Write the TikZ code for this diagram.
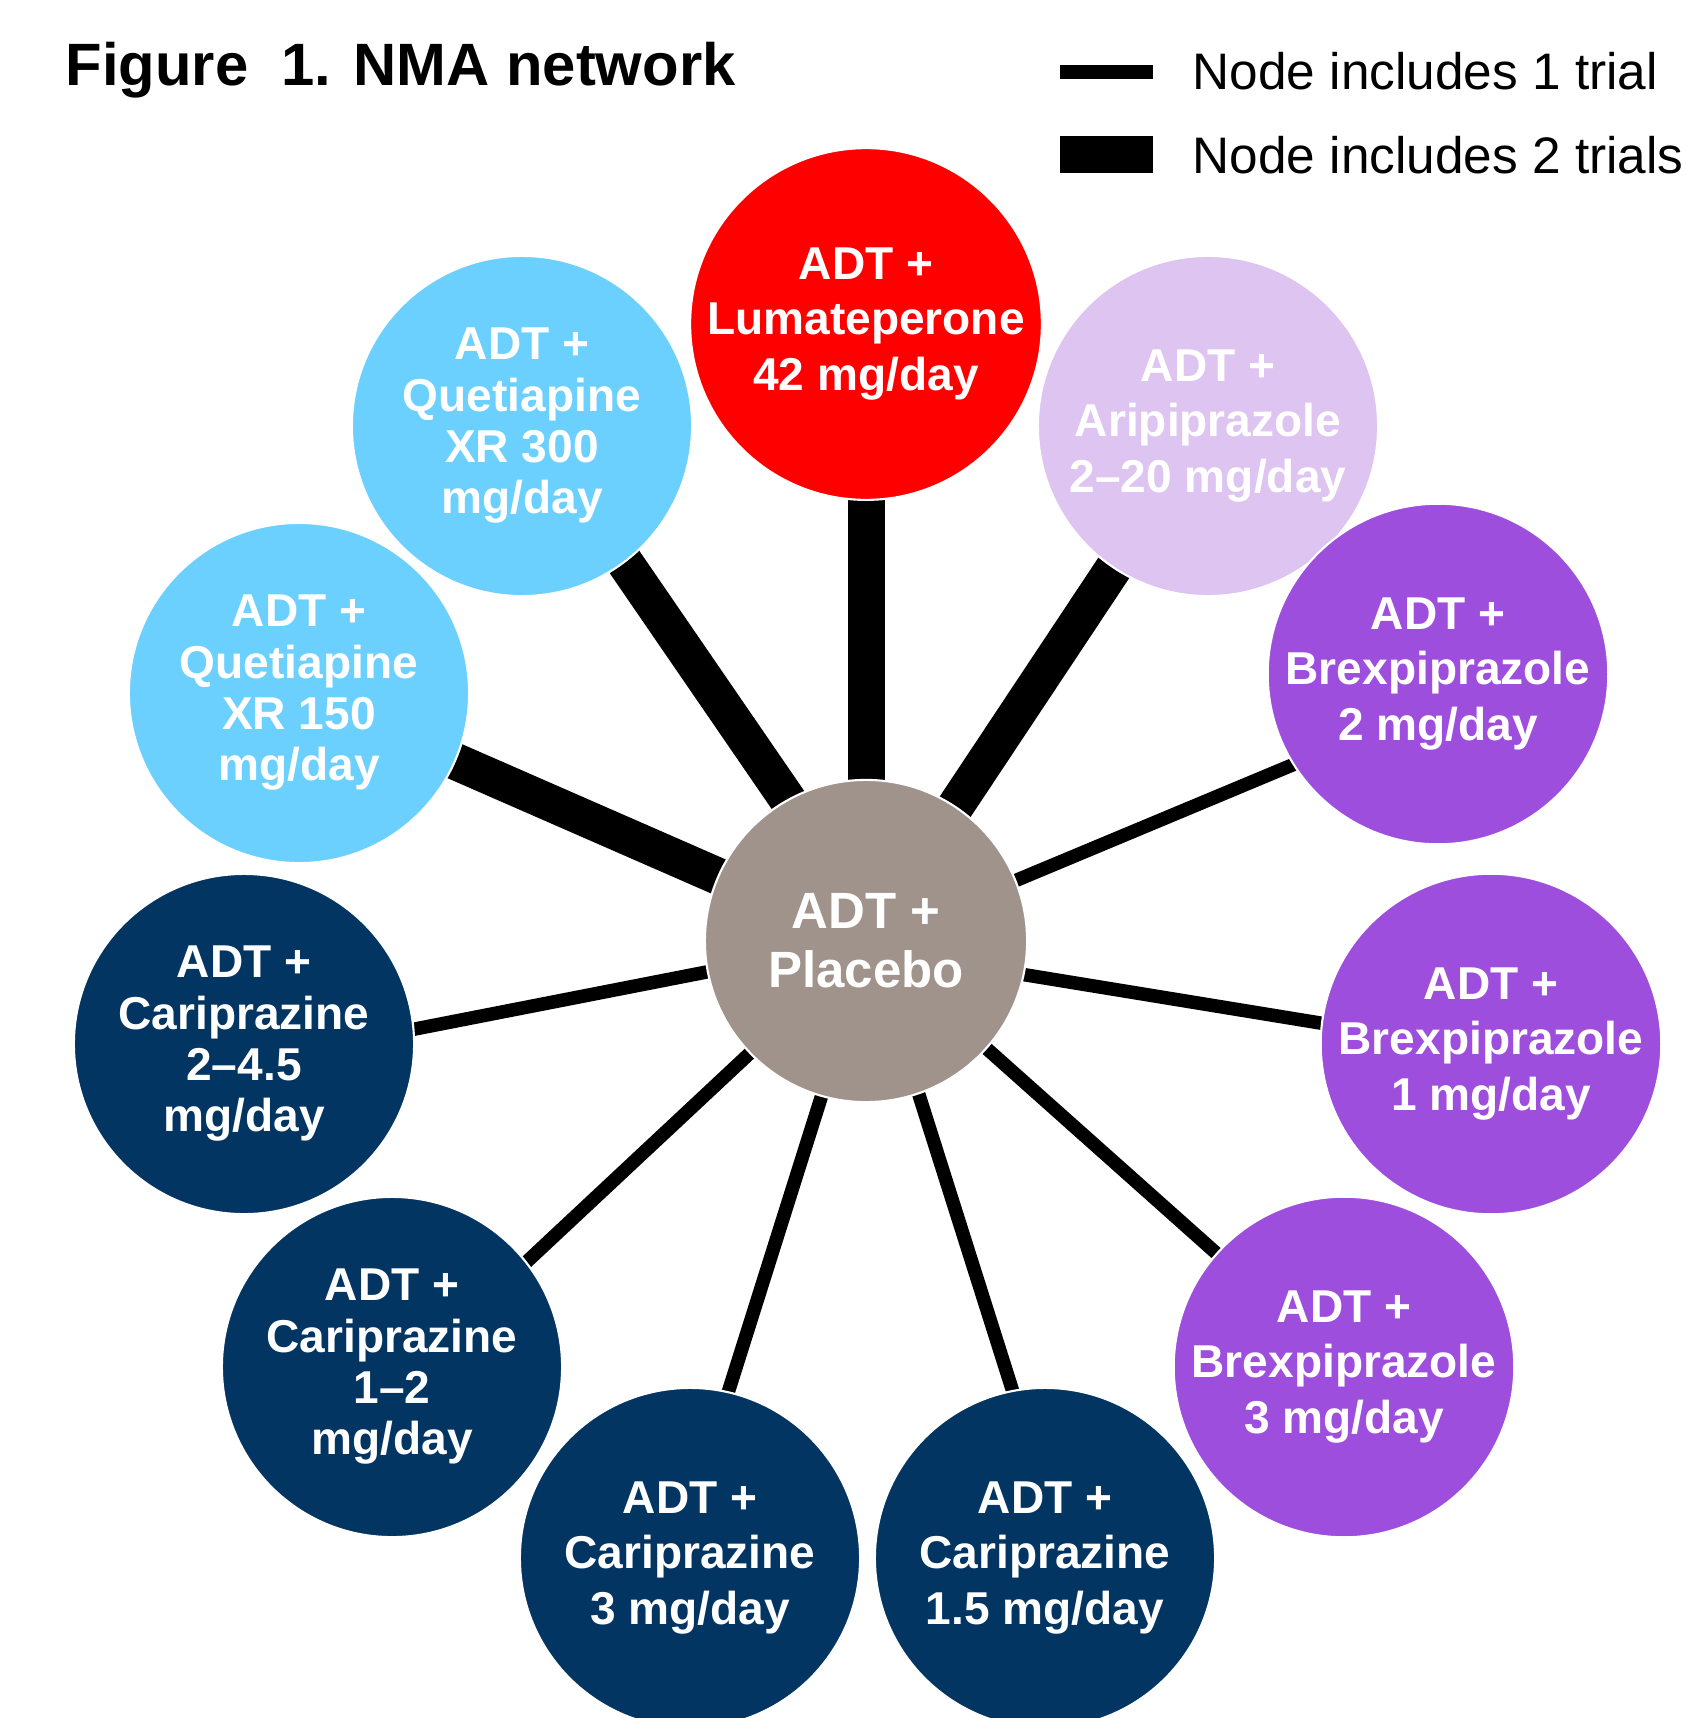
\documentclass[tikz,border=0pt]{standalone}
\usepackage{fontspec}
\setmainfont{Liberation Sans}
\usetikzlibrary{backgrounds}

\definecolor{lumared}{HTML}{FE0000}
\definecolor{quetblue}{HTML}{6CD0FF}
\definecolor{aripilac}{HTML}{DEC4F1}
\definecolor{brexpurple}{HTML}{9E4EDC}
\definecolor{caripnavy}{HTML}{033563}
\definecolor{placebogrey}{HTML}{A0938B}

\begin{document}
\begin{tikzpicture}[x=0.01cm, y=-0.01cm]
    \tikzstyle{drug}=[circle, draw=white, line width=0.6pt, inner sep=0pt, minimum size=3.40cm, text=white, align=center, font=\bfseries\fontsize{13.1}{15.8}\selectfont]
    \tikzstyle{tall label}=[font=\bfseries\fontsize{13.1}{14.6}\selectfont]
    \tikzstyle{placebo drug}=[drug, fill=placebogrey, minimum size=3.22cm, font=\bfseries\fontsize{14.5}{16.7}\selectfont]
    \tikzstyle{lumateperone drug}=[drug, fill=lumared]
    \tikzstyle{quetiapine drug}=[drug, fill=quetblue]
    \tikzstyle{aripiprazole drug}=[drug, fill=aripilac]
    \tikzstyle{brexpiprazole drug}=[drug, fill=brexpurple]
    \tikzstyle{cariprazine drug}=[drug, fill=caripnavy]
    \tikzstyle{one trial}=[draw=black, line width=0.135cm, shorten <=-0.1cm, shorten >=-0.1cm]
    \tikzstyle{two trials}=[draw=black, line width=0.37cm, shorten <=-0.1cm, shorten >=-0.1cm]
    \tikzstyle{key bar}=[fill=black, inner sep=0pt, minimum width=0.93cm]
    \tikzstyle{key text}=[anchor=base west, inner sep=0pt, font=\fontsize{14.6}{17}\selectfont]

    \useasboundingbox (0,0) rectangle (1686,1718);

    % Title and legend
    \node[anchor=base west, inner sep=0pt, font=\bfseries\fontsize{17}{20}\selectfont] (title) at (65,85) {Figure\ \ 1. NMA network};
    \node[key bar, minimum height=0.14cm] (key-1) at (1106.5,72) {};
    \node[key bar, minimum height=0.37cm] (key-2) at (1106.5,154.5) {};
    \node[key text] (key-1-text) at (1192,89) {Node includes 1 trial};
    \node[key text] (key-2-text) at (1192,173) {Node includes 2 trials};

    % Draw the treatment nodes
    \node[placebo drug] (P) at (866,941) {ADT +\\Placebo};
    \node[lumateperone drug, minimum size=3.37cm] (L) at (866,324) {ADT +\\Lumateperone\\42 mg/day};
    \node[aripiprazole drug] (A) at (1208,426) {ADT +\\Aripiprazole\\2–20 mg/day};
    \node[quetiapine drug, tall label] (Q-300) at (522,426) {ADT +\\Quetiapine\\XR 300\\mg/day};
    \node[quetiapine drug, tall label] (Q-150) at (299,693) {ADT +\\Quetiapine\\XR 150\\mg/day};
    \node[brexpiprazole drug] (B-2) at (1438,674) {ADT +\\Brexpiprazole\\2 mg/day};
    \node[brexpiprazole drug] (B-1) at (1491,1044) {ADT +\\Brexpiprazole\\1 mg/day};
    \node[brexpiprazole drug] (B-3) at (1344,1367) {ADT +\\Brexpiprazole\\3 mg/day};
    \node[cariprazine drug] (C-15) at (1045,1558) {ADT +\\Cariprazine\\1.5 mg/day};
    \node[cariprazine drug] (C-3) at (690,1558) {ADT +\\Cariprazine\\3 mg/day};
    \node[cariprazine drug, tall label] (C-12) at (392,1367) {ADT +\\Cariprazine\\1–2\\mg/day};
    \node[cariprazine drug, tall label] (C-245) at (244,1044) {ADT +\\Cariprazine\\2–4.5\\mg/day};

    % Comparisons with placebo, behind the nodes
    \begin{pgfonlayer}{background}
    \path (P.center) edge[two trials] (L.center);
    \path (P.center) edge[two trials] (A.center);
    \path (P.119) edge[two trials] (Q-300.-53.4);
    \path (P.center) edge[two trials] (Q-150.center);
    \path (P.22.4) edge[one trial] (B-2.212.4);
    \path (P.-12.8) edge[one trial] (B-1.173.2);
    \path (P.center) edge[one trial] (B-3.center);
    \path (P.-71.5) edge[one trial] (C-15.101.3);
    \path (P.254.5) edge[one trial] (C-3.77);
    \path (P.224) edge[one trial] (C-12.38);
    \path (P.191.5) edge[one trial] (C-245.5.7);
    \end{pgfonlayer}
\end{tikzpicture}
\end{document}
